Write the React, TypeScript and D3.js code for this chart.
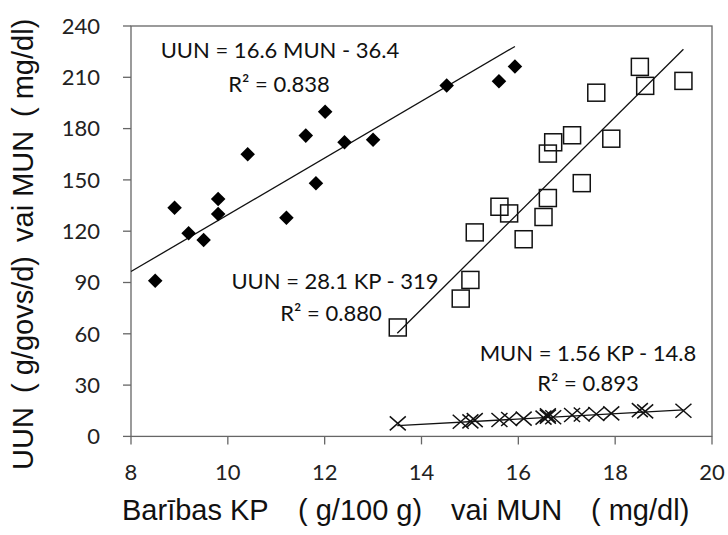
import * as d3 from "d3";

// UUN vs MUN (filled diamonds)
const munX = [8.5, 8.9, 9.19, 9.5, 9.8, 9.8, 10.41, 11.21, 11.61, 11.82, 12.01, 12.41, 13.0, 14.52, 15.6, 15.93];
const munUUN = [91, 133.7, 118.8, 114.9, 138.8, 130.1, 165, 127.9, 175.9, 148, 189.9, 172, 173.5, 205.2, 207.7, 216.3];

// UUN vs KP (open squares)
const kpX = [13.51, 14.81, 15.01, 15.1, 15.61, 15.81, 16.11, 16.52, 16.61, 16.61, 16.72, 17.11, 17.31, 17.61, 17.92, 18.51, 18.62, 19.41];
const kpUUN = [63.7, 80.6, 91.5, 119.3, 134.3, 130.4, 115.3, 128.3, 139.4, 165.4, 172, 176.1, 148.1, 201, 174.1, 216.1, 205, 207.9];

// MUN vs KP (crosses)
const kpMUN = [7.6, 8.6, 8.8, 9.5, 9.6, 10.2, 10.4, 11.0, 11.5, 12.3, 11.2, 12.5, 12.8, 13.1, 13.5, 15.4, 14.6, 15.0];

// trendlines: slope, intercept, x range
const fitSlope = [16.6, 28.1, 1.56];
const fitIntercept = [-36.4, -319, -14.8];
const fitFrom = [8, 13.5, 13.5];
const fitTo = [15.93, 19.41, 19.41];

const xTicks = [8, 10, 12, 14, 16, 18, 20];
const yTicks = [0, 30, 60, 90, 120, 150, 180, 210, 240];

const eqLabels = [
  { text: "UUN = 16.6 MUN - 36.4", x: 280, y: 58 },
  { text: "R² = 0.838", x: 279, y: 92 },
  { text: "UUN = 28.1 KP - 319", x: 335, y: 289 },
  { text: "R² = 0.880", x: 331, y: 321 },
  { text: "MUN = 1.56 KP - 14.8", x: 588, y: 361 },
  { text: "R² = 0.893", x: 588, y: 391 },
];

// axis title pieces (spaced out like the original)
const xTitleParts = ["Barības KP", "( g/100 g)", "vai MUN", "( mg/dl)"];
const xTitleAt = [122, 298, 451, 591];
const yTitleParts = ["UUN", "( g/govs/d)", "vai MUN", "( mg/dl)"];
const yTitleAt = [470, 393, 242, 117];

const W = 728;
const H = 535;
const left = 131;
const right = 712;
const top = 26;
const bottom = 436.4;

const x = d3.scaleLinear().domain([8, 20]).range([left, right]);
const y = d3.scaleLinear().domain([0, 240]).range([bottom, top]);

const frame = "#666";
const tickFont = "Lato, 'Open Sans', sans-serif";
const titleFont = "'Liberation Sans', Arial, sans-serif";

export default function App() {
  const line = d3.line<[number, number]>().x((d) => x(d[0])).y((d) => y(d[1]));
  const diamond = d3.symbol(d3.symbolDiamond2, 135)()!;

  return (
    <svg width={W} height={H} style={{ position: "absolute", left: 0, top: 0, background: "#fff" }}>
      {/* frame */}
      <rect x={left} y={top} width={right - left} height={bottom - top} fill="none" stroke={frame} strokeWidth={1.3} />

      {/* y ticks */}
      {yTicks.map((t) => (
        <g key={"y" + t}>
          <line x1={left - 8} x2={left} y1={y(t)} y2={y(t)} stroke={frame} strokeWidth={1.3} />
          <text x={100} y={y(t)} dy="0.35em" textAnchor="end" fontFamily={tickFont} fontSize={22} fill="#222">
            {t}
          </text>
        </g>
      ))}

      {/* x ticks */}
      {xTicks.map((t) => (
        <g key={"x" + t}>
          <line x1={x(t)} x2={x(t)} y1={bottom} y2={bottom + 8} stroke={frame} strokeWidth={1.3} />
          <text x={x(t)} y={472} dy="0.35em" textAnchor="middle" fontFamily={tickFont} fontSize={22} fill="#222">
            {t}
          </text>
        </g>
      ))}

      {/* trendlines */}
      {fitSlope.map((s, i) => (
        <path
          key={"fit" + i}
          d={line([
            [fitFrom[i], s * fitFrom[i] + fitIntercept[i]],
            [fitTo[i], s * fitTo[i] + fitIntercept[i]],
          ])!}
          fill="none"
          stroke="#111"
          strokeWidth={1.3}
        />
      ))}

      {/* diamonds */}
      {munX.map((v, i) => (
        <path key={"d" + i} d={diamond} transform={`translate(${x(v)},${y(munUUN[i])})`} fill="#000" />
      ))}

      {/* squares */}
      {kpX.map((v, i) => (
        <rect
          key={"s" + i}
          x={x(v) - 8.5}
          y={y(kpUUN[i]) - 8.5}
          width={17}
          height={17}
          fill="none"
          stroke="#111"
          strokeWidth={1.5}
        />
      ))}

      {/* crosses */}
      {kpX.map((v, i) => {
        const cx = x(v);
        const cy = y(kpMUN[i]);
        return (
          <path
            key={"c" + i}
            d={`M${cx - 8},${cy - 7}L${cx + 8},${cy + 7}M${cx - 8},${cy + 7}L${cx + 8},${cy - 7}`}
            stroke="#111"
            strokeWidth={1.5}
            fill="none"
          />
        );
      })}

      {/* equations */}
      {eqLabels.map((l) => (
        <text key={l.text} x={l.x} y={l.y} textAnchor="middle" fontFamily={tickFont} fontSize={22} fill="#111">
          {l.text}
        </text>
      ))}

      {/* axis titles */}
      <text y={520} fontFamily={titleFont} fontSize={29} fill="#111">
        {xTitleParts.map((p, i) => (
          <tspan key={p} x={xTitleAt[i]}>
            {p}
          </tspan>
        ))}
      </text>
      <text transform="translate(33,0) rotate(-90)" fontFamily={titleFont} fontSize={29} fill="#111">
        {yTitleParts.map((p, i) => (
          <tspan key={p + i} x={-yTitleAt[i]}>
            {p}
          </tspan>
        ))}
      </text>
    </svg>
  );
}
